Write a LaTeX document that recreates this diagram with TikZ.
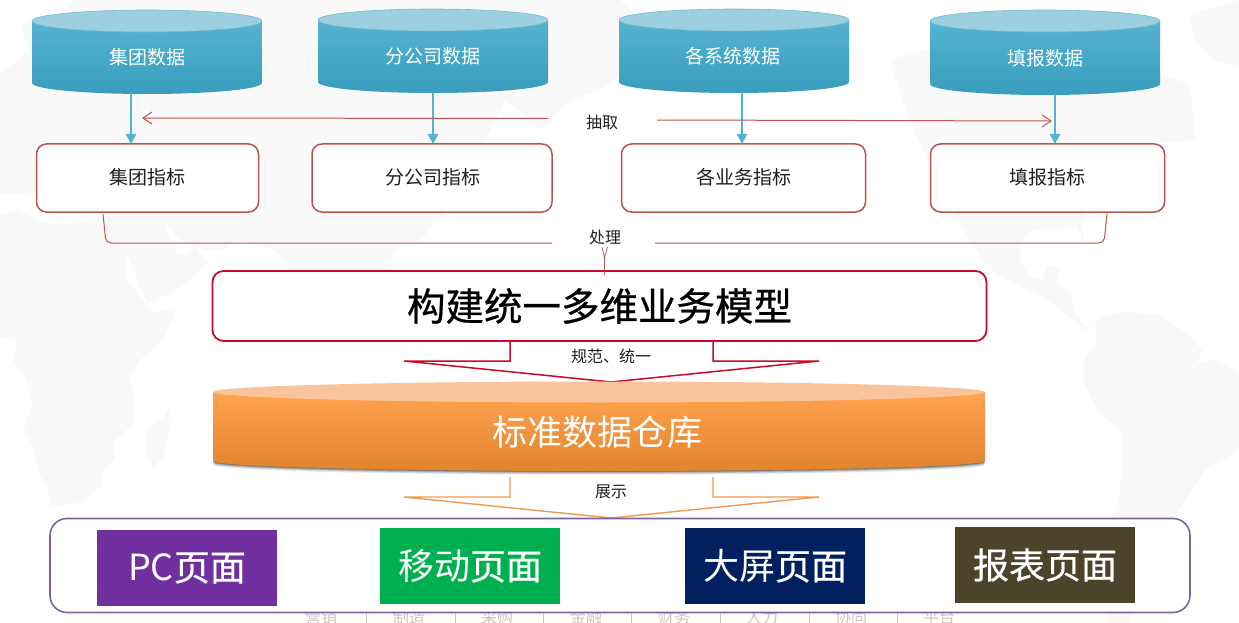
\documentclass[tikz,border=0pt]{standalone}
\usepackage{fontspec}
\setmainfont{Liberation Sans}
\newfontfamily\cjk{Noto Sans CJK SC}
\newfontfamily\cjkb[FakeBold=0.6]{Noto Sans CJK SC}
\usetikzlibrary{arrows.meta,calc}
\definecolor{mapc}{HTML}{F9F9F9}
\definecolor{tealt}{HTML}{9CCFE0}
\definecolor{teala}{HTML}{54B3D0}
\definecolor{tealb}{HTML}{3A9DBD}
\definecolor{redl}{HTML}{B85450}
\definecolor{redd}{HTML}{C80A28}
\definecolor{orgl}{HTML}{EE9A50}
\definecolor{orgt}{HTML}{FFA350}
\definecolor{orgm}{HTML}{FF9A42}
\definecolor{orgb}{HTML}{E2842C}
\definecolor{orge}{HTML}{F9C49C}
\definecolor{panelc}{HTML}{8064A2}
\tikzset{
 x=1pt,y=-1pt,
 txt/.style={font=\cjk\fontsize{19}{19}\selectfont,inner sep=0pt,text=black!88},
 wtxt/.style={txt,text=white},
 smalltxt/.style={font=\cjk\fontsize{16}{16}\selectfont,inner sep=0pt,text=black!88},
 ibox/.style={draw=redl,line width=1.5pt,rounded corners=10pt,fill=white,inner sep=0pt,outer sep=0pt,anchor=north west},
 flow/.style={-{Triangle[length=10pt,width=10pt]},draw=teala,line width=2.4pt,shorten >=0pt},
 thinred/.style={draw=redl,line width=1pt},
 extract/.style={thinred,-{Straight Barb[length=9pt,width=12pt]}},
 tile/.style={inner sep=0pt,outer sep=0pt,minimum width=180pt,minimum height=76pt,anchor=north west,text=white,font=\cjk\fontsize{36}{36}\selectfont},
}
\newcommand{\drum}[4]{% x0,x1,ytop,ybot
 \shade[top color=teala,bottom color=tealb] (#1,#3) -- (#1,#4) arc[start angle=180,end angle=0,x radius={(#2-#1)/2},y radius=11] -- (#2,#3) -- cycle;
 \fill[tealt,draw=tealb!70,line width=.6pt] ({(#1+#2)/2},#3) ellipse[x radius={(#2-#1)/2},y radius=11];
}
\begin{document}
\begin{tikzpicture}
\useasboundingbox (0,0) rectangle (1239,623);
\fill[white] (0,0) rectangle (1239,623);
% faint map: Eurasia
\fill[mapc] (0,75) -- (30,50) -- (20,25) -- (60,18) -- (75,0) -- (620,0) -- (650,30) -- (640,60) -- (600,90) -- (570,100) -- (540,130) -- (525,115) -- (505,100) -- (490,130) -- (480,150) -- (455,200) -- (420,240) -- (395,250) -- (370,300) -- (340,325) -- (330,330) -- (300,280) -- (275,250) -- (240,240) -- (220,250) -- (207,250) -- (183,243) -- (170,227) -- (165,228) -- (177,253) -- (187,255) -- (195,247) -- (208,263) -- (185,283) -- (173,293) -- (147,303) -- (128,257) -- (113,243) -- (100,205) -- (60,190) -- (0,195) -- cycle;
% Africa
\fill[mapc] (0,215) -- (17,210) -- (37,220) -- (55,225) -- (90,222) -- (103,215) -- (113,243) -- (127,260) -- (125,277) -- (145,303) -- (153,313) -- (175,308) -- (175,315) -- (163,340) -- (140,360) -- (130,377) -- (135,400) -- (135,422) -- (113,442) -- (115,460) -- (105,467) -- (100,487) -- (83,502) -- (50,507) -- (47,487) -- (37,470) -- (35,450) -- (24,430) -- (32,403) -- (27,380) -- (13,360) -- (17,340) -- (0,338) -- cycle;
% Madagascar
\fill[mapc] (168,410) -- (172,422) -- (163,457) -- (153,467) -- (145,453) -- (148,427) -- (163,420) -- cycle;
% North and Central America
\fill[mapc] (890,60) -- (1000,30) -- (1100,50) -- (1190,85) -- (1195,140) -- (1140,145) -- (1100,170) -- (1082,217) -- (1085,248) -- (1077,227) -- (1052,228) -- (1030,230) -- (1020,245) -- (1020,260) -- (1030,278) -- (1043,280) -- (1047,267) -- (1060,267) -- (1055,282) -- (1070,292) -- (1075,313) -- (1085,327) -- (1095,322) -- (1085,330) -- (1065,313) -- (1043,297) -- (1023,288) -- (990,270) -- (980,257) -- (940,190) -- (910,120) -- cycle;
% South America
\fill[mapc] (1102,317) -- (1123,312) -- (1160,315) -- (1188,335) -- (1202,350) -- (1197,363) -- (1213,360) -- (1239,372) -- (1239,447) -- (1233,455) -- (1207,467) -- (1180,508) -- (1150,560) -- (1130,623) -- (1108,623) -- (1115,517) -- (1120,490) -- (1123,433) -- (1097,410) -- (1083,380) -- (1085,357) -- (1097,343) -- (1095,322) -- cycle;
% Greenland
\fill[mapc] (1190,15) -- (1239,0) -- (1239,68) -- (1215,60) -- (1195,40) -- cycle;
% cylinders
\drum{32}{262}{21}{83}
\drum{318}{548}{20}{82}
\drum{619}{849}{20}{82}
\drum{930}{1160}{21}{84}
\node[wtxt] (d1) at (147,57.5) {集团数据};
\node[wtxt] (d2) at (433,56.5) {分公司数据};
\node[wtxt] (d3) at (733,56.5) {各系统数据};
\node[wtxt] (d4) at (1045,58.5) {填报数据};
% indicator boxes
\node[ibox,minimum width=222pt,minimum height=68pt] (i1) at (36.5,144) {};
\node[ibox,minimum width=240pt,minimum height=68pt] (i2) at (312,144) {};
\node[ibox,minimum width=244pt,minimum height=68pt] (i3) at (621.5,144) {};
\node[ibox,minimum width=234pt,minimum height=68pt] (i4) at (930.5,144) {};
\node[txt] (l1) at (147,177.5) {集团指标};
\node[txt] (l2) at (433,177.5) {分公司指标};
\node[txt] (l3) at (743.5,177.5) {各业务指标};
\node[txt] (l4) at (1047,177.5) {填报指标};
% blue arrows
\coordinate (a1) at (131,93); \coordinate (a2) at (433,92); \coordinate (a3) at (742,92); \coordinate (a4) at (1055,94);
\draw[flow] (a1) -- (a1 |- i1.north);
\draw[flow] (a2) -- (a2 |- i2.north);
\draw[flow] (a3) -- (a3 |- i3.north);
\draw[flow] (a4) -- (a4 |- i4.north);
% extract
\node[smalltxt] (ex) at (602,122.5) {抽取};
\coordinate (e1) at (548,118.5); \coordinate (e2) at (142,118);
\coordinate (e3) at (657,120); \coordinate (e4) at (1052,121);
\draw[extract] (e1) -- (e2);
\draw[extract] (e3) -- (e4);
% process bracket
\node[smalltxt] (pr) at (605,237.5) {处理};
\coordinate (b1) at (103,214); \coordinate (b2) at (552,243);
\coordinate (b3) at (1107,214); \coordinate (b4) at (655,243);
\draw[thinred,rounded corners=5pt] (b1) -- (106,243) -- (b2);
\draw[thinred,rounded corners=5pt] (b3) -- (1104,243) -- (b4);
% model
\node[draw=redd,line width=1.8pt,rounded corners=11pt,fill=white,inner sep=0pt,outer sep=0pt,minimum width=774pt,minimum height=70pt,anchor=north west,font=\cjkb\fontsize{38.5}{38.5}\selectfont] (model) at (212.5,271) {构建统一多维业务模型};
\draw[redl,line width=.7pt] (602,247) -- (604.5,258) -- (607.5,247) (604.5,258) -- (604.5,275);
% arrows
\draw[redd,line width=1.5pt] (510,341) -- (510,361) -- (404,361) -- (611,382) -- (819,361) -- (713,361) -- (713,341);
\node[smalltxt] (sp) at (611,356) {规范、统一};
% warehouse
\foreach \o/\op in {5/.06,4/.09,3/.13,2/.18,1/.22}{
 \fill[black,opacity=\op] (213.5,392) -- (213.5,461+\o*.8) arc[start angle=180,end angle=0,x radius=385.5,y radius=10] -- (984.5,392) -- cycle;}
\shade[top color=orgt,middle color=orgm,bottom color=orgb] (213,392) -- (213,461) arc[start angle=180,end angle=0,x radius=386,y radius=10] -- (985,392) -- cycle;
\fill[orge] (599,392) ellipse[x radius=386,y radius=10.5];
\node[font=\cjk\fontsize{35}{35}\selectfont,text=white,inner sep=0pt] (dw) at (597,432) {标准数据仓库};
% show arrow
\draw[orgl,line width=1.4pt] (510,477) -- (510,497) -- (404,497) -- (611,518) -- (819,497) -- (713,497) -- (713,477);
\node[smalltxt] (sh) at (611,491.5) {展示};
% faint bottom labels (behind panel)
\foreach \t/\x in {营销/321,制造/409,采购/497,金融/586,财务/674,人力/762,协同/851,平台/939}{
 \node[font=\cjk\fontsize{16}{16}\selectfont,text=black!22,inner sep=0pt] at (\x,617) {\t};}
\foreach \x in {366,455,543,631,720,809,897}{\draw[black!22,line width=.6pt] (\x,610)--(\x,623);}
% panel
\node[draw=panelc,line width=1.6pt,rounded corners=17pt,fill=white,inner sep=0pt,outer sep=0pt,minimum width=1140pt,minimum height=94pt,anchor=north west] (panel) at (50,518.5) {};
\node[tile,fill={rgb,255:red,112;green,48;blue,160}] (t1) at (97,530) {PC{\cjkb 页面}};
\node[tile,fill={rgb,255:red,0;green,176;blue,80}] (t2) at (380,528) {移动{\cjkb 页面}};
\node[tile,fill={rgb,255:red,0;green,32;blue,96}] (t3) at (685,528) {大屏{\cjkb 页面}};
\node[tile,fill={rgb,255:red,76;green,68;blue,42}] (t4) at (955,527) {{\cjkb 报表页面}};
\end{tikzpicture}
\end{document}
